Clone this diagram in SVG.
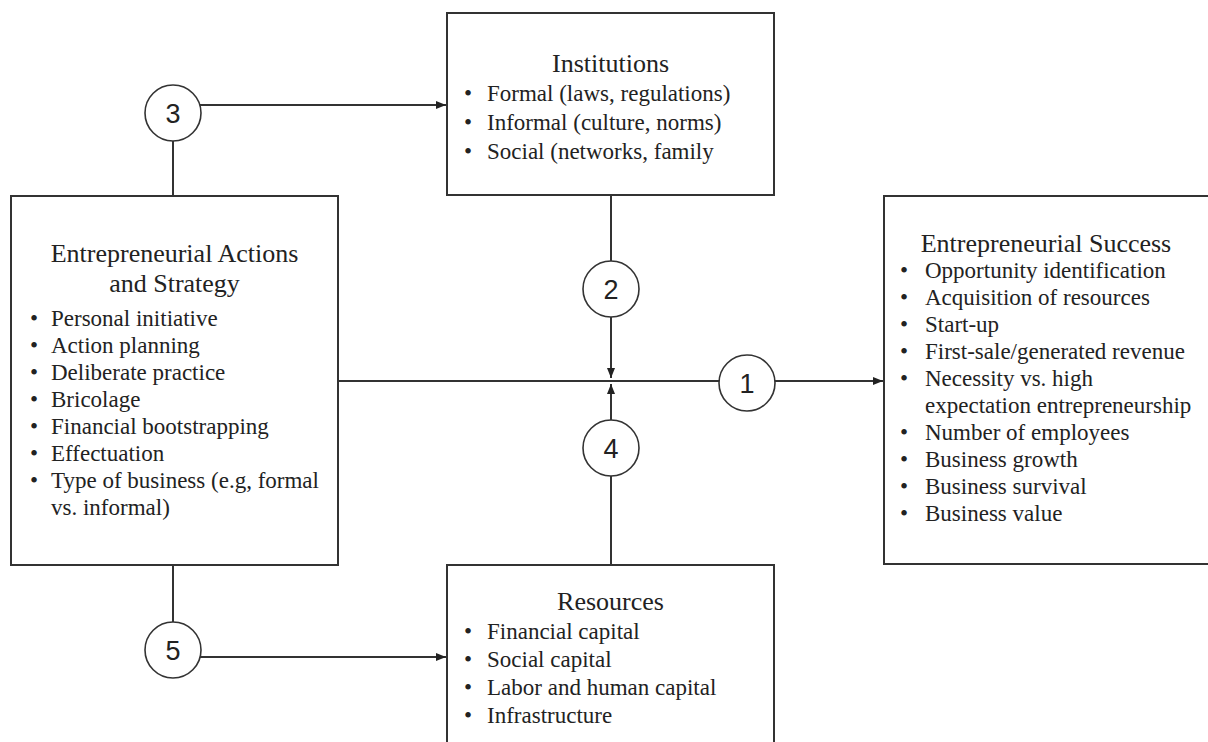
<svg xmlns="http://www.w3.org/2000/svg" width="1208" height="742" viewBox="0 0 1208 742">
<defs>
<style>
.box{fill:#fff;stroke:#333;stroke-width:2}
.ln{fill:none;stroke:#333;stroke-width:2}
.cir{fill:#fff;stroke:#333;stroke-width:1.6}
.t{font-family:"Liberation Serif","Times New Roman",serif;font-size:23px;fill:#222}
.h{font-family:"Liberation Serif","Times New Roman",serif;font-size:26px;fill:#222;text-anchor:middle}
.n{font-family:"Liberation Sans",Arial,sans-serif;font-size:27px;fill:#222;text-anchor:middle}
</style>
<marker id="ah" viewBox="0 0 10 10" refX="10" refY="5" markerWidth="10" markerHeight="10" markerUnits="userSpaceOnUse" orient="auto">
<path d="M0,1 L10,5 L0,9 Z" fill="#222"/>
</marker>
</defs>
<rect width="1208" height="742" fill="#fff"/>
<g id="connectors">
<line class="ln" x1="200" y1="105" x2="446" y2="105" marker-end="url(#ah)"/>
<line class="ln" x1="173" y1="141" x2="173" y2="196"/>
<line class="ln" x1="173" y1="565" x2="173" y2="622"/>
<line class="ln" x1="200" y1="657" x2="446" y2="657" marker-end="url(#ah)"/>
<line class="ln" x1="611" y1="195" x2="611" y2="261"/>
<line class="ln" x1="611" y1="317" x2="611" y2="378" marker-end="url(#ah)"/>
<line class="ln" x1="611" y1="565" x2="611" y2="476"/>
<line class="ln" x1="611" y1="420" x2="611" y2="384" marker-end="url(#ah)"/>
<line class="ln" x1="338" y1="381" x2="719" y2="381"/>
<line class="ln" x1="775" y1="381" x2="883" y2="381" marker-end="url(#ah)"/>
</g>
<g id="c1"><circle class="cir" cx="747" cy="383" r="28"/><text class="n" x="747" y="393">1</text></g>
<g id="c2"><circle class="cir" cx="611" cy="289" r="28"/><text class="n" x="611" y="299">2</text></g>
<g id="c3"><circle class="cir" cx="173" cy="113" r="28"/><text class="n" x="173" y="123">3</text></g>
<g id="c4"><circle class="cir" cx="611" cy="448" r="28"/><text class="n" x="611" y="458">4</text></g>
<g id="c5"><circle class="cir" cx="173" cy="650" r="28"/><text class="n" x="173" y="660">5</text></g>
<g id="institutions">
<rect class="box" x="447" y="13" width="327" height="182"/>
<text class="h" x="610.5" y="72">Institutions</text>
<text class="t" x="464" y="101">•</text><text class="t" x="487" y="101">Formal (laws, regulations)</text>
<text class="t" x="464" y="130">•</text><text class="t" x="487" y="130">Informal (culture, norms)</text>
<text class="t" x="464" y="159">•</text><text class="t" x="487" y="159">Social (networks, family</text>
</g>
<g id="actions">
<rect class="box" x="11" y="196" width="327" height="369"/>
<text class="h" x="174.5" y="262">Entrepreneurial  Actions</text>
<text class="h" x="174.5" y="292">and Strategy</text>
<text class="t" x="30" y="326">•</text><text class="t" x="51" y="326">Personal initiative</text>
<text class="t" x="30" y="353">•</text><text class="t" x="51" y="353">Action planning</text>
<text class="t" x="30" y="380">•</text><text class="t" x="51" y="380">Deliberate practice</text>
<text class="t" x="30" y="407">•</text><text class="t" x="51" y="407">Bricolage</text>
<text class="t" x="30" y="434">•</text><text class="t" x="51" y="434">Financial bootstrapping</text>
<text class="t" x="30" y="461">•</text><text class="t" x="51" y="461">Effectuation</text>
<text class="t" x="30" y="488">•</text><text class="t" x="51" y="488">Type of business (e.g, formal</text>
<text class="t" x="51" y="515">vs. informal)</text>
</g>
<g id="success">
<rect class="box" x="884" y="196" width="340" height="368"/>
<text class="h" x="1046" y="252">Entrepreneurial  Success</text>
<text class="t" x="900" y="278">•</text><text class="t" x="925" y="278">Opportunity identification</text>
<text class="t" x="900" y="305">•</text><text class="t" x="925" y="305">Acquisition of resources</text>
<text class="t" x="900" y="332">•</text><text class="t" x="925" y="332">Start-up</text>
<text class="t" x="900" y="359">•</text><text class="t" x="925" y="359">First-sale/generated revenue</text>
<text class="t" x="900" y="386">•</text><text class="t" x="925" y="386">Necessity vs. high</text>
<text class="t" x="925" y="413">expectation entrepreneurship</text>
<text class="t" x="900" y="440">•</text><text class="t" x="925" y="440">Number of employees</text>
<text class="t" x="900" y="467">•</text><text class="t" x="925" y="467">Business growth</text>
<text class="t" x="900" y="494">•</text><text class="t" x="925" y="494">Business survival</text>
<text class="t" x="900" y="521">•</text><text class="t" x="925" y="521">Business value</text>
</g>
<g id="resources">
<rect class="box" x="447" y="565" width="327" height="200"/>
<text class="h" x="610.5" y="610">Resources</text>
<text class="t" x="464" y="639">•</text><text class="t" x="487" y="639">Financial capital</text>
<text class="t" x="464" y="667">•</text><text class="t" x="487" y="667">Social capital</text>
<text class="t" x="464" y="695">•</text><text class="t" x="487" y="695">Labor and human capital</text>
<text class="t" x="464" y="723">•</text><text class="t" x="487" y="723">Infrastructure</text>
</g>
</svg>
